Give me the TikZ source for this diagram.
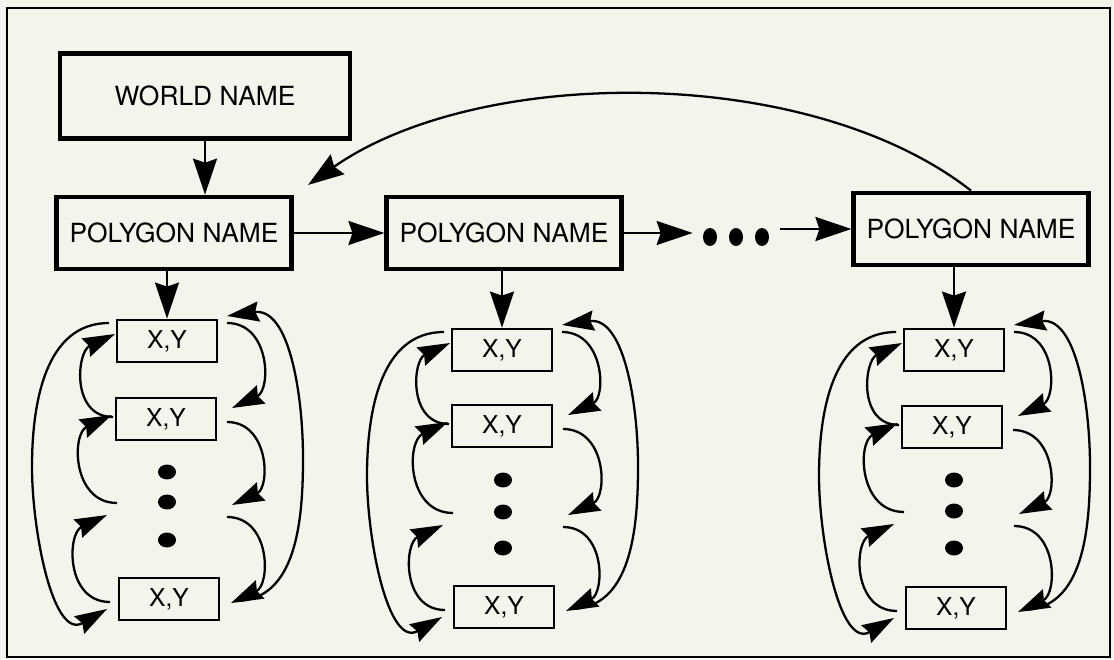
\documentclass[tikz,border=0pt]{standalone}
\usepackage{fontspec}
\setmainfont{TeX Gyre Heros}
\usepackage{tikz}
\usetikzlibrary{arrows.meta,shapes.geometric}
\definecolor{paper}{RGB}{244,244,236}

\begin{document}
\begin{tikzpicture}[x=0.02cm, y=0.02cm,
  namebox/.style={draw, line width=2.4pt, minimum width=4.7cm, minimum height=1.45cm, inner sep=0pt, font=\fontsize{15}{18}\selectfont},
  xybox/.style={draw, line width=1.6pt, minimum width=2.0cm, minimum height=0.84cm, inner sep=0pt, font=\fontsize{14}{17}\selectfont},
  vdot/.style={ellipse, fill=black, inner sep=0pt, minimum width=0.36cm, minimum height=0.3cm},
  hdot/.style={ellipse, fill=black, inner sep=0pt, minimum width=0.28cm, minimum height=0.36cm},
  arr/.style={-{Stealth[length=0.72cm, width=0.48cm, inset=0.08cm]}, line width=1.3pt},
  link/.style={-{Stealth[length=0.64cm, width=0.4cm, inset=0.07cm]}, line width=1.3pt},
  nxt/.style={out=0, in=25, looseness=1.3},
  prv/.style={out=180, in=-155, looseness=1.3}
]
\fill[paper] (0,0) rectangle (1114,659);
\useasboundingbox (0,0) rectangle (1114,659);
\draw[line width=1.6pt] (7,2) rectangle (1110,651);
% world and polygon names (top)
\node[namebox, minimum width=5.8cm, minimum height=1.7cm] (world) at (205,563) {WORLD NAME};
\node[namebox] (p1) at (174,426) {POLYGON NAME};
\node[namebox] (p2) at (504,426) {POLYGON NAME};
\node[namebox] (p3) at (971,430) {POLYGON NAME};
\node[hdot] (h1) at (710,422) {};
\node[hdot] (h2) at (736,422) {};
\node[hdot] (h3) at (762,422) {};
% vertex lists, one column per polygon
\node[xybox] (a1) at (167,318) {X,Y};
\node[xybox] (a2) at (166,240) {X,Y};
\node[vdot]  (ad1) at (167,187) {};
\node[vdot]  (ad2) at (167,157) {};
\node[vdot]  (ad3) at (167,119) {};
\node[xybox] (a3) at (169,60) {X,Y};
\node[xybox] (b1) at (502,309) {X,Y};
\node[xybox] (b2) at (502,233) {X,Y};
\node[vdot]  (bd1) at (503,179) {};
\node[vdot]  (bd2) at (503,147) {};
\node[vdot]  (bd3) at (503,111) {};
\node[xybox] (b3) at (504,52) {X,Y};
\node[xybox] (c1) at (954,309) {X,Y};
\node[xybox] (c2) at (952,232) {X,Y};
\node[vdot]  (cd1) at (954,179) {};
\node[vdot]  (cd2) at (954,148) {};
\node[vdot]  (cd3) at (954,111) {};
\node[xybox] (c3) at (956,51) {X,Y};
\coordinate (back) at (308,474);
\draw[arr] (world.south) -- (world.south |- p1.north);
\draw[arr] (p1) -- (p2);
\draw[arr, shorten >=0.2cm] (p2.east) -- (p2.east -| h1.west);
\draw[arr, shorten <=0.22cm] (h3.east |- p3.west) -- (p3.west);
\draw[arr] (p3.north) to[out=142, in=35, looseness=0.8] (back);
\draw[arr] (p1.south -| a1.north) -- (a1.north);
\draw[arr] (p2.south -| b1.north) -- (b1.north);
\draw[arr] (p3.south -| c1.north) -- (c1.north);
% next links (right), previous links (left)
\foreach \col in {a,b,c}{
  \draw[link] ([shift={(60,18)}]\col1.center) to[nxt] ([shift={(66,11)}]\col2.center);
  \draw[link] ([shift={(61,-3)}]\col2.center) to[nxt] ([shift={(65,-3)}]\col d2.center);
  \draw[link] ([shift={(60,-15)}]\col d2.center) to[nxt] ([shift={(62,-4)}]\col3.center);
  \draw[link] ([shift={(66,-2)}]\col3.center) to[out=0, in=-90] ++(68,143) to[out=90, in=8] ([shift={(60,25)}]\col1.center);
  \draw[link] ([shift={(-53,2)}]\col2.center) to[prv] ([shift={(-52,7)}]\col1.center);
  \draw[link] ([shift={(-50,-1)}]\col d2.center) to[prv] ([shift={(-54,4)}]\col2.center);
  \draw[link] ([shift={(-59,-3)}]\col3.center) to[prv] ([shift={(-60,-13)}]\col d2.center);
  \draw[link] ([shift={(-58,18)}]\col1.center) to[out=180, in=90] ++(-77,-144) to[out=-90, in=210] ([shift={(-62,-10)}]\col3.center);
}
\end{tikzpicture}
\end{document}
